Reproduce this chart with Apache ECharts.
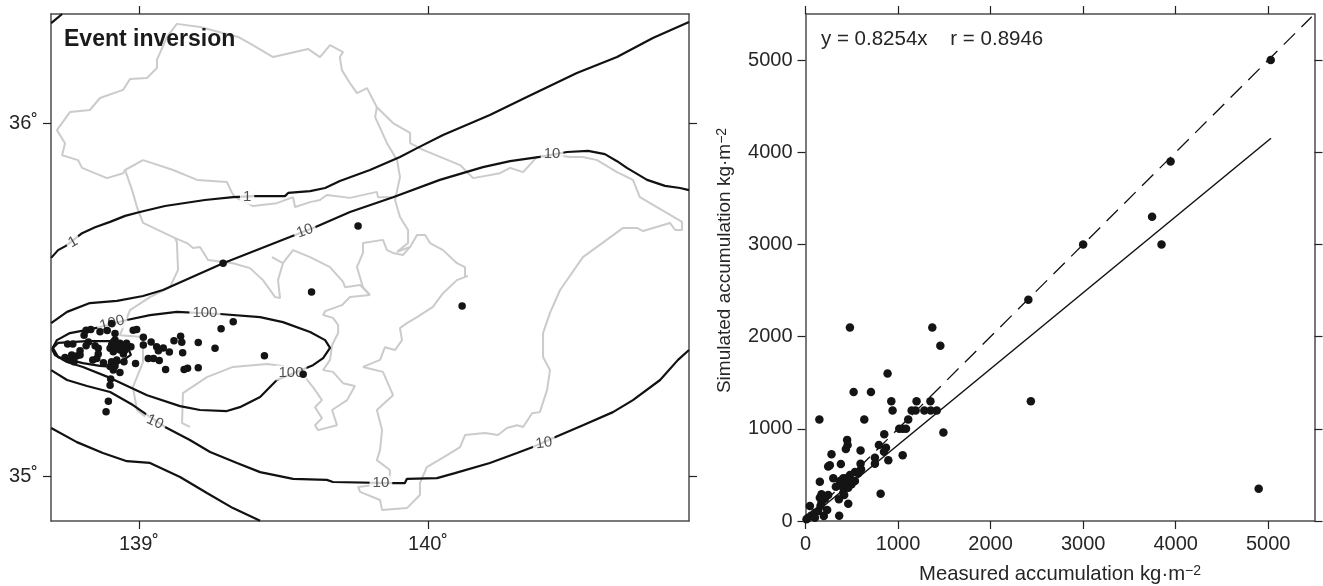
<!DOCTYPE html>
<html>
<head>
<meta charset="utf-8">
<title>Event inversion</title>
<script src="https://cdn.jsdelivr.net/npm/echarts@6/dist/echarts.min.js"></script>
<style>
  html, body { margin: 0; padding: 0; background: #fff; }
  #chart { width: 1323px; height: 586px; }
</style>
</head>
<body>
<div id="chart"></div>
<script>
// Map panel: longitude / latitude in degrees
const lonTicks = [139, 140]
const latTicks = [35, 36]

// Contours of accumulation, [lon, lat]
const contour1 = [[138.696,35.618],[138.720,35.640],[138.747,35.652],[138.803,35.688],[138.848,35.705],[138.900,35.720],[138.952,35.737],[139.003,35.748],[139.090,35.765],[139.228,35.782],[139.325,35.790],[139.398,35.793],[139.505,35.793],[139.516,35.802],[139.592,35.807],[139.644,35.816],[139.695,35.836],[139.799,35.867],[139.903,35.904],[139.962,35.929],[140.052,35.966],[140.214,36.023],[140.342,36.074],[140.515,36.142],[140.654,36.187],[140.778,36.241],[140.903,36.286]]
const contour1Corner = [[138.696,36.283],[138.734,36.309]]
const contour10Upper = [[138.696,35.433],[138.751,35.465],[138.830,35.490],[138.924,35.496],[139.014,35.510],[139.083,35.527],[139.291,35.603],[139.522,35.677],[139.609,35.705],[139.730,35.748],[139.879,35.790],[140.041,35.839],[140.190,35.875],[140.284,35.892],[140.387,35.904],[140.481,35.918],[140.554,35.921],[140.612,35.912],[140.654,35.892],[140.688,35.873],[140.758,35.839],[140.820,35.822],[140.872,35.816],[140.903,35.810]]
const contour10Lower = [[138.696,35.300],[138.751,35.272],[138.820,35.255],[138.900,35.238],[138.979,35.201],[139.028,35.173],[139.090,35.139],[139.176,35.102],[139.246,35.068],[139.339,35.037],[139.419,35.011],[139.533,34.992],[139.650,34.989],[139.671,34.983],[139.875,34.980],[139.920,34.980],[139.927,34.992],[140.031,34.994],[140.093,35.008],[140.214,35.037],[140.308,35.065],[140.363,35.082],[140.439,35.110],[140.536,35.144],[140.640,35.181],[140.709,35.215],[140.803,35.272],[140.865,35.329],[140.903,35.357]]
const contour10South = [[138.696,35.136],[138.785,35.096],[138.875,35.065],[138.958,35.042],[139.038,35.037],[139.142,34.997],[139.235,34.952],[139.325,34.909],[139.419,34.873]]
const contour100 = [[138.699,35.360],[138.716,35.385],[138.761,35.405],[138.820,35.414],[138.865,35.422],[138.958,35.442],[139.038,35.456],[139.131,35.465],[139.280,35.459],[139.419,35.450],[139.498,35.436],[139.592,35.408],[139.644,35.385],[139.661,35.363],[139.637,35.334],[139.602,35.314],[139.477,35.272],[139.419,35.224],[139.349,35.195],[139.304,35.184],[139.211,35.187],[139.142,35.198],[139.028,35.229],[138.900,35.278],[138.806,35.309],[138.751,35.323],[138.709,35.343],[138.699,35.360]]
const contourInner = [[138.702,35.363],[138.720,35.377],[138.820,35.382],[138.900,35.382],[138.958,35.371],[138.972,35.343],[138.910,35.309],[138.865,35.312],[138.806,35.320],[138.720,35.337],[138.702,35.363]]
const contourLines = [contour1, contour1Corner, contour10Upper, contour10Lower, contour10South, contour100, contourInner]

// Contour labels
const contourLabelPoints = [[138.772,35.663],[139.374,35.790],[139.574,35.694],[140.429,35.912],[138.907,35.433],[139.228,35.462],[139.526,35.292],[139.055,35.153],[139.837,34.980],[140.401,35.093]]
const contourLabelTexts = ['1','1','10','10','100','100','100','10','10','10']
const contourLabelAngles = [30,0,20,0,15,0,0,-25,0,8]

// Sampling sites
const sites = [[139.597,35.521],[139.326,35.437],[139.284,35.417],[138.992,35.415],[138.980,35.413],[138.905,35.432],[138.817,35.413],[138.833,35.415],[138.865,35.409],[138.890,35.412],[138.810,35.399],[138.917,35.404],[139.015,35.393],[139.144,35.396],[139.121,35.383],[139.148,35.379],[139.205,35.378],[139.042,35.380],[139.015,35.371],[138.753,35.374],[138.771,35.374],[138.825,35.380],[138.817,35.369],[138.848,35.369],[138.859,35.362],[138.796,35.355],[138.859,35.346],[138.854,35.333],[138.840,35.329],[138.744,35.336],[138.767,35.343],[138.784,35.340],[138.764,35.329],[138.775,35.324],[138.796,35.343],[138.917,35.385],[138.905,35.371],[138.923,35.371],[138.934,35.376],[138.957,35.376],[138.972,35.366],[138.917,35.362],[138.934,35.357],[138.952,35.357],[138.946,35.346],[138.900,35.362],[139.061,35.366],[139.084,35.363],[139.067,35.355],[139.105,35.351],[139.151,35.349],[139.263,35.362],[139.434,35.341],[139.032,35.333],[139.050,35.333],[139.070,35.327],[138.988,35.319],[138.877,35.321],[138.905,35.324],[138.923,35.329],[138.948,35.324],[138.900,35.310],[138.917,35.312],[138.911,35.300],[138.934,35.293],[139.092,35.302],[139.156,35.302],[139.168,35.305],[139.205,35.307],[139.568,35.288],[138.902,35.275],[138.900,35.257],[138.894,35.212],[138.886,35.182],[139.291,35.603],[139.758,35.708],[140.118,35.482],[138.911,35.380],[138.928,35.362],[138.911,35.352],[138.940,35.366],[138.952,35.371]]

// Coast and prefecture outlines
const outlineNorth = [[139.730,36.113],[139.702,36.150],[139.695,36.187],[139.706,36.201],[139.661,36.221],[139.626,36.187],[139.585,36.210],[139.464,36.187],[139.394,36.221],[139.343,36.244],[139.211,36.272],[139.131,36.281],[139.097,36.244],[139.062,36.179],[139.062,36.156],[139.028,36.128],[138.969,36.125],[138.945,36.094],[138.865,36.071],[138.830,36.037],[138.761,36.031],[138.716,35.980],[138.744,35.943],[138.734,35.909],[138.789,35.895],[138.803,35.873],[138.889,35.844],[138.945,35.858],[138.952,35.867],[139.014,35.895],[139.118,35.867],[139.201,35.839],[139.304,35.833],[139.322,35.802],[139.332,35.790],[139.374,35.773],[139.394,35.765],[139.477,35.773],[139.533,35.790],[139.540,35.762],[139.592,35.776],[139.626,35.782],[139.650,35.796],[139.730,35.788],[139.823,35.805],[139.827,35.790],[139.879,35.790]]
const outlineSagami = [[138.952,35.867],[138.976,35.810],[138.993,35.762],[139.014,35.717],[139.125,35.674],[139.166,35.660],[139.187,35.646],[139.211,35.649],[139.239,35.612],[139.325,35.603],[139.384,35.589],[139.429,35.555],[139.471,35.507],[139.488,35.504],[139.481,35.555],[139.498,35.603],[139.460,35.620],[139.498,35.603],[139.533,35.640],[139.592,35.620],[139.661,35.592],[139.706,35.550],[139.713,35.535],[139.765,35.541],[139.799,35.513]]
const outlineHakone = [[139.125,35.674],[139.131,35.663],[139.135,35.584],[139.107,35.535],[139.038,35.507],[138.969,35.470],[138.934,35.399],[139.014,35.394],[139.014,35.323],[138.979,35.252],[138.993,35.187],[139.028,35.164]]
const outlineMiura = [[139.176,35.139],[139.149,35.150],[139.152,35.235],[139.235,35.280],[139.325,35.309],[139.443,35.317],[139.498,35.312],[139.574,35.280],[139.602,35.252],[139.633,35.215],[139.609,35.195],[139.633,35.164],[139.609,35.144],[139.619,35.130],[139.685,35.144],[139.668,35.187],[139.720,35.215],[139.747,35.255],[139.706,35.263],[139.671,35.295],[139.637,35.300],[139.661,35.329],[139.668,35.371],[139.689,35.405],[139.689,35.428],[139.671,35.448],[139.637,35.456],[139.644,35.467],[139.702,35.484],[139.730,35.507],[139.799,35.513]]
const outlineBoso = [[139.799,35.513],[139.775,35.535],[139.754,35.592],[139.775,35.632],[139.775,35.660],[139.844,35.669],[139.858,35.640],[139.879,35.632],[139.913,35.626],[139.938,35.649],[139.962,35.683],[139.990,35.683],[140.007,35.660],[140.052,35.640],[140.100,35.603],[140.128,35.592],[140.128,35.564],[140.138,35.567],[140.100,35.555],[140.052,35.518],[140.017,35.479],[139.962,35.450],[139.927,35.433],[139.903,35.419],[139.910,35.385],[139.886,35.357],[139.851,35.365],[139.834,35.329],[139.775,35.309],[139.844,35.295],[139.879,35.229],[139.823,35.187],[139.841,35.130],[139.834,35.074],[139.823,35.045],[139.868,35.017],[139.868,34.980],[139.758,34.969],[139.765,34.955],[139.834,34.932],[139.841,34.904],[139.927,34.909],[139.972,34.946],[139.972,34.980],[139.996,35.025],[140.066,35.059],[140.111,35.082],[140.128,35.116],[140.197,35.122],[140.242,35.116],[140.273,35.136],[140.308,35.144],[140.329,35.139],[140.360,35.178],[140.387,35.181],[140.412,35.244],[140.422,35.300],[140.398,35.337],[140.398,35.405],[140.422,35.462],[140.457,35.527],[140.536,35.620],[140.675,35.703],[140.723,35.703],[140.744,35.694],[140.837,35.717],[140.855,35.697],[140.879,35.697],[140.879,35.720],[140.733,35.790],[140.709,35.839],[140.654,35.861],[140.585,35.895],[140.536,35.904],[140.491,35.904],[140.446,35.909],[140.377,35.904],[140.329,35.861],[140.284,35.873],[140.249,35.858],[140.156,35.844],[140.111,35.881],[139.983,35.924],[139.938,35.943],[139.938,35.972],[139.879,36.000],[139.823,36.045],[139.789,36.099],[139.754,36.085],[139.730,36.113]]
const outlineTone = [[139.823,36.045],[139.817,36.017],[139.858,35.943],[139.893,35.895],[139.903,35.847],[139.886,35.782],[139.903,35.734],[139.931,35.697],[139.931,35.660],[139.893,35.635],[139.938,35.649]]
const outlines = [outlineNorth, outlineSagami, outlineHakone, outlineMiura, outlineBoso, outlineTone]

// Scatter panel: measured vs simulated accumulation, kg/m2
const accumTicks = [0, 1000, 2000, 3000, 4000, 5000]
const measured = [1457,887,520,707,150,635,927,1200,1350,941,1147,1190,1284,1353,1418,1110,1013,1050,1086,851,1490,2435,450,455,436,793,870,848,595,281,750,750,895,1050,382,263,245,595,600,534,570,155,300,480,408,444,372,462,534,328,390,425,498,462,408,418,812,173,245,155,210,361,462,47,173,162,137,234,101,65,29,101,198,364,11,480,1370,2408,3000,3745,3847,3945,5027,4897]
const simulated = [1900,1600,1400,1400,1100,1100,1300,1300,1300,1200,1200,1200,1200,1200,1200,1100,1000,1000,1000,940,960,1300,880,825,780,825,795,750,766,723,687,622,658,712,618,604,590,622,560,531,517,427,463,499,463,463,434,434,434,372,380,398,398,361,307,282,296,289,282,253,242,235,188,163,199,163,108,119,90,61,36,36,54,58,18,2100,2100,2400,3000,3300,3000,3900,5000,350]
const regressionLine = [[0, 0], [5030, 4152]]
const identityLine = [[0, 0], [5470, 5470]]

const AXIS_COLOR = '#4d4d4d'
const TEXT_COLOR = '#262626'
const FONT = '"Liberation Sans", Arial, sans-serif'

const makeAxis = (position, gridIndex, min, max, values, formatter) => {
  const showLabel = !!formatter
  return {
    type: 'value',
    gridIndex,
    position,
    min,
    max,
    scale: true,
    splitLine: { show: false },
    axisLine: { show: true, onZero: false, lineStyle: { color: AXIS_COLOR, width: 1.5 } },
    axisTick: { show: true, inside: false, length: 8, customValues: values, lineStyle: { color: '#222', width: 1.2 } },
    axisLabel: {
      show: showLabel,
      customValues: values,
      formatter: formatter || '',
      color: TEXT_COLOR,
      fontFamily: FONT,
      fontSize: 20,
      margin: 13,
    },
  }
}

const degree = (v) => v + '˚'
const plain = (v) => String(v)

const xNameRich = {
  t: { fontFamily: FONT, fontSize: 20.3, color: TEXT_COLOR },
  s: { fontFamily: FONT, fontSize: 14, color: TEXT_COLOR, verticalAlign: 'top', lineHeight: 15 },
}
const yNameRich = {
  t: { fontFamily: FONT, fontSize: 19, color: TEXT_COLOR },
  s: { fontFamily: FONT, fontSize: 14, color: TEXT_COLOR, verticalAlign: 'top', lineHeight: 15 },
}

const xAccum = makeAxis('bottom', 1, 0, 5500, accumTicks, plain)
xAccum.name = '{t|Measured accumulation kg·m}{s|−2}'
xAccum.nameLocation = 'middle'
xAccum.nameGap = 43
xAccum.nameTextStyle = { rich: xNameRich }

const yAccum = makeAxis('left', 1, 0, 5500, accumTicks, plain)
yAccum.name = '{t|Simulated accumulation kg·m}{s|−2}'
yAccum.nameLocation = 'middle'
yAccum.nameGap = 71
yAccum.nameTextStyle = { rich: yNameRich, padding: [0, 0, 0, 14] }

const lonMin = 138.6955, lonMax = 140.903, latMin = 34.8725, latMax = 36.309

const option = {
  animation: false,
  backgroundColor: '#fff',
  title: [
    { text: 'Event inversion', left: 59, top: 23, textStyle: { fontFamily: FONT, fontSize: 23, fontWeight: 'bold', color: '#1a1a1a' } },
    { text: 'y = 0.8254x    r = 0.8946', left: 816, top: 24, textStyle: { fontFamily: FONT, fontSize: 20.5, fontWeight: 'normal', color: TEXT_COLOR } },
  ],
  grid: [
    { left: 51, top: 14, width: 638, height: 507, outerBoundsMode: 'none' },
    { left: 805.5, top: 14, width: 509, height: 507, outerBoundsMode: 'none' },
  ],
  xAxis: [
    makeAxis('bottom', 0, lonMin, lonMax, lonTicks, degree),
    makeAxis('top', 0, lonMin, lonMax, lonTicks),
    xAccum,
    makeAxis('top', 1, 0, 5500, accumTicks),
  ],
  yAxis: [
    makeAxis('left', 0, latMin, latMax, latTicks, degree),
    makeAxis('right', 0, latMin, latMax, latTicks),
    yAccum,
    makeAxis('right', 1, 0, 5500, accumTicks),
  ],
  series: [
    ...outlines.map((data) => ({
      type: 'line', xAxisIndex: 0, yAxisIndex: 0, data, z: 2, symbol: 'none', silent: true,
      lineStyle: { color: '#cbcbcb', width: 2 },
    })),
    ...contourLines.map((data) => ({
      type: 'line', xAxisIndex: 0, yAxisIndex: 0, data, z: 3, symbol: 'none', silent: true,
      lineStyle: { color: '#111', width: 2.2 },
    })),
    {
      type: 'scatter', xAxisIndex: 0, yAxisIndex: 0, z: 4, symbolSize: 0, silent: true,
      data: contourLabelPoints.map((value, i) => ({
        value,
        label: {
          show: true,
          position: 'inside',
          formatter: contourLabelTexts[i],
          rotate: contourLabelAngles[i],
          fontFamily: FONT,
          fontSize: 15,
          color: '#262626',
          backgroundColor: '#fff',
          padding: [0, 3],
        },
      })),
    },
    {
      type: 'scatter', xAxisIndex: 0, yAxisIndex: 0, z: 5, data: sites, symbolSize: 7.5, silent: true,
      itemStyle: { color: '#141414', opacity: 1 },
    },
    {
      type: 'line', xAxisIndex: 2, yAxisIndex: 2, data: identityLine, symbol: 'none', silent: true, z: 3,
      lineStyle: { color: '#111', width: 1.3, type: [16, 9] },
    },
    {
      type: 'line', xAxisIndex: 2, yAxisIndex: 2, data: regressionLine, symbol: 'none', silent: true, z: 3,
      lineStyle: { color: '#111', width: 1.5 },
    },
    {
      type: 'scatter', xAxisIndex: 2, yAxisIndex: 2, z: 5, symbolSize: 8.5, silent: true,
      data: measured.map((m, i) => [m, simulated[i]]),
      itemStyle: { color: '#141414', opacity: 1 },
    },
  ],
}

const chart = echarts.init(document.getElementById('chart'), null, { renderer: 'canvas' })
chart.setOption(option)
</script>
</body>
</html>
